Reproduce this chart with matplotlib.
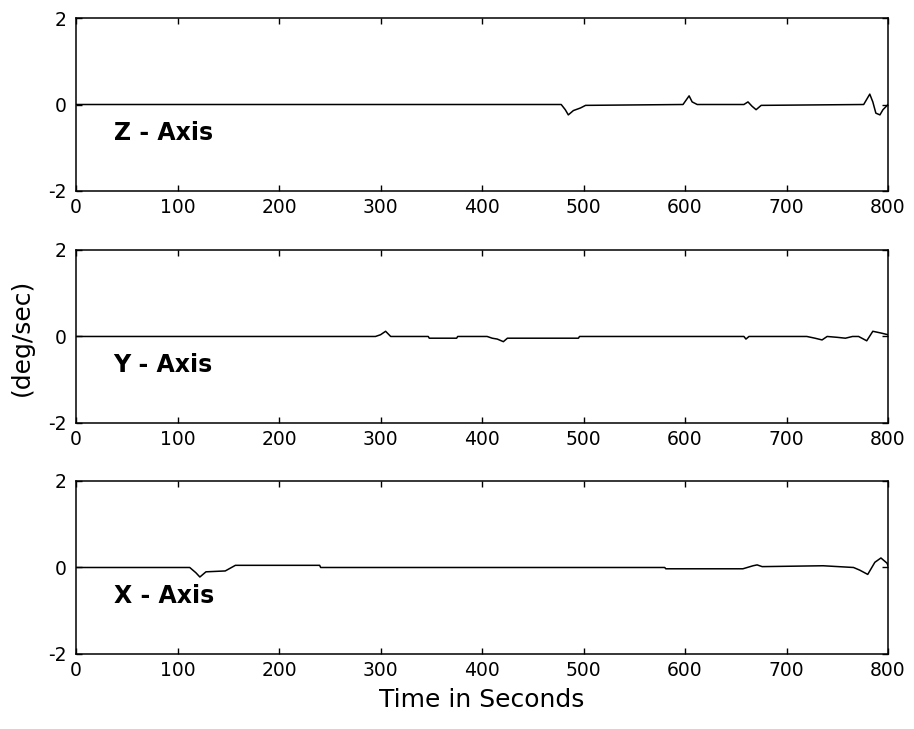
import matplotlib
matplotlib.use("Agg")
import matplotlib.pyplot as plt

plt.rcParams["axes.unicode_minus"] = False

# readings (time in s, rate in deg/sec)
z_time = [0, 478, 482, 485, 490, 497, 502, 598, 601, 604, 607, 612,
          658, 662, 666, 670, 675, 776, 779, 782, 785, 788, 792, 795, 800]
z_rate = [0, 0, -0.12, -0.24, -0.14, -0.08, -0.02, 0.0, 0.1, 0.2, 0.06, 0.0,
          0.0, 0.06, -0.04, -0.12, -0.02, 0.0, 0.12, 0.24, 0.06, -0.2, -0.24, -0.12, 0.0]

y_time = [0, 295, 300, 305, 310, 347, 348, 375, 376, 405, 410, 415, 421, 425,
          495, 496, 658, 660, 663, 720, 728, 735, 740, 750, 758, 765, 771,
          779, 785, 793, 800]
y_rate = [0, 0, 0.04, 0.12, 0.0, 0.0, -0.04, -0.04, 0, 0, -0.04, -0.06, -0.12, -0.04,
          -0.04, 0, 0, -0.06, 0, 0, -0.04, -0.08, 0.0, -0.02, -0.04, 0.0, 0.0,
          -0.1, 0.12, 0.08, 0.04]

x_time = [0, 112, 118, 122, 128, 147, 157, 240, 241, 580, 581, 657, 667, 671, 676,
          736, 766, 772, 780, 787, 793, 799, 800]
x_rate = [0, 0, -0.12, -0.22, -0.1, -0.08, 0.05, 0.05, 0.0, 0.0, -0.03, -0.03, 0.04,
          0.06, 0.02, 0.04, 0.0, -0.06, -0.16, 0.12, 0.22, 0.1, 0.04]

panels = [(z_time, z_rate, "Z - Axis"),
          (y_time, y_rate, "Y - Axis"),
          (x_time, x_rate, "X - Axis")]

fig = plt.figure(figsize=(9.14, 7.29), dpi=100)
bottoms = [0.738, 0.4198, 0.1029]

axes = []
for (t, v, name), b in zip(panels, bottoms):
    ax = fig.add_axes([0.0832, b, 0.8884, 0.2373])
    ax.plot(t, v, color="black", linewidth=1.1)
    ax.set_xlim(0, 800)
    ax.set_ylim(-2, 2)
    ax.set_xticks(range(0, 801, 100))
    ax.set_yticks([-2, 0, 2])
    ax.tick_params(direction="in", top=True, right=True, length=4.5,
                   labelsize=13.5, width=1)
    ax.tick_params(axis="x", pad=5)
    ax.tick_params(axis="y", pad=7)
    for s in ax.spines.values():
        s.set_linewidth(1.1)
    ax.text(37, -0.65, name, fontsize=17, fontweight="bold", va="center")
    axes.append(ax)

axes[-1].set_xlabel("Time in Seconds", fontsize=18, labelpad=6)
fig.text(22 / 914, 1 - 337 / 729, "(deg/sec)", rotation=90, fontsize=18,
         ha="center", va="center")

plt.savefig("out.png", dpi=100)
